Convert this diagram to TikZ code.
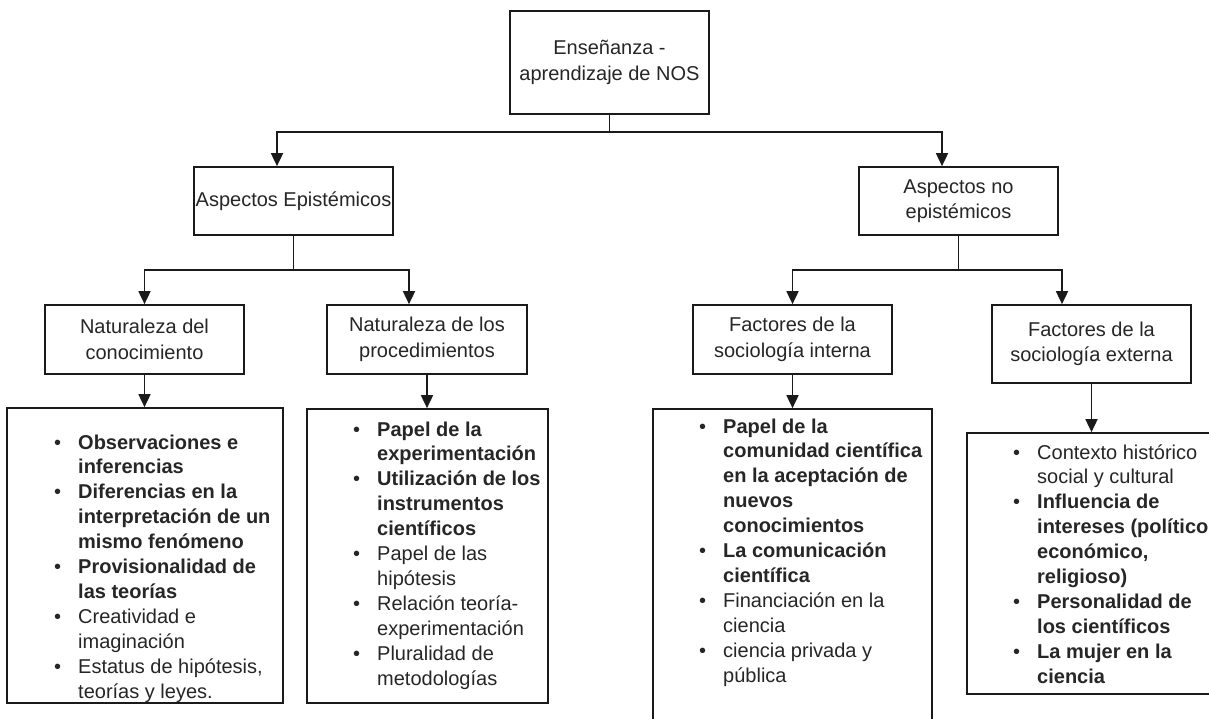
\documentclass[tikz,border=0pt]{standalone}
\usepackage{fontspec}
\setmainfont{Liberation Sans}
\usetikzlibrary{arrows.meta}
\definecolor{txt}{HTML}{262626}
\definecolor{lncol}{HTML}{1A1A1A}
\newcommand{\bul}{\makebox[24pt][l]{\textbullet}}
\begin{document}
\begin{tikzpicture}[x=1pt,y=-1pt,
  box/.style={draw=lncol, line width=1.7pt, rectangle, inner sep=0pt, align=center, text=txt, font=\fontsize{20}{25.5}\selectfont},
  arr/.style={draw=lncol, line width=1.7pt, -{Triangle[length=13pt,width=12pt]}},
  conn/.style={draw=lncol, line width=1.7pt},
  listtext/.style={anchor=base west, inner sep=0pt, text=txt, font=\fontsize{20}{24.9}\selectfont}]
\clip (0,0) rectangle (1209,719);
\fill[white] (0,0) rectangle (1209,719);

% boxes
\node[box, minimum width=199pt, minimum height=103pt] (top) at (609.5,62.5) {Enseñanza -\\aprendizaje de NOS};
\node[box, minimum width=199pt, minimum height=68pt] (ae) at (293.5,201) {Aspectos Epistémicos};
\node[box, minimum width=199pt, minimum height=68pt] (ane) at (958.5,201) {Aspectos no\\epistémicos};
\node[box, minimum width=199pt, minimum height=69pt] (nc) at (144.5,339.5) {Naturaleza del\\conocimiento};
\node[box, minimum width=200pt, minimum height=69pt] (np) at (427,339.5) {Naturaleza de los\\procedimientos};
\node[box, minimum width=199pt, minimum height=69pt] (fi) at (792.5,339.5) {Factores de la\\sociología interna};
\node[box, minimum width=199pt, minimum height=78pt] (fe) at (1091.5,344) {Factores de la\\sociología externa};

% list boxes
\node[box, minimum width=276pt, minimum height=295pt] (l1) at (145,555.5) {};
\node[box, minimum width=241pt, minimum height=294pt] (l2) at (427.5,556) {};
\node[box, minimum width=279pt, minimum height=330pt] (l3) at (792.5,574) {};
\node[box, minimum width=250pt, minimum height=261pt] (l4) at (1092,563.5) {};

% connectors
\coordinate (j0) at (609.5,132);
\draw[conn] (top.south) -- (j0);
\draw[arr] (j0) -| ([xshift=-16.5pt]ae.north);
\draw[arr] (j0) -| ([xshift=-16.5pt]ane.north);

\coordinate (j1) at (293.5,270);
\draw[conn] (ae.south) -- (j1);
\draw[arr] (j1) -| (nc.north);
\draw[arr] (j1) -| ([xshift=-18pt]np.north);

\coordinate (j2) at (958.5,270);
\draw[conn] (ane.south) -- (j2);
\draw[arr] (j2) -| (fi.north);
\draw[arr] (j2) -| ([xshift=-29.5pt]fe.north);

\draw[arr] (nc.south) -- (nc.south |- l1.north);
\draw[arr] (np.south) -- (np.south |- l2.north);
\draw[arr] (fi.south) -- (fi.south |- l3.north);
\draw[arr] (fe.south) -- (fe.south |- l4.north);

% list texts
\node[listtext] (t1) at (54,449) {\begin{tabular}[t]{@{}l@{}l@{}}
\bul & \textbf{Observaciones e}\\
 & \textbf{inferencias}\\
\bul & \textbf{Diferencias en la}\\
 & \textbf{interpretación de un}\\
 & \textbf{mismo fenómeno}\\
\bul & \textbf{Provisionalidad de}\\
 & \textbf{las teorías}\\
\bul & Creatividad e\\
 & imaginación\\
\bul & Estatus de hipótesis,\\
 & teorías y leyes.
\end{tabular}};

\node[listtext] (t2) at (353,436) {\begin{tabular}[t]{@{}l@{}l@{}}
\bul & \textbf{Papel de la}\\
 & \textbf{experimentación}\\
\bul & \textbf{Utilización de los}\\
 & \textbf{instrumentos}\\
 & \textbf{científicos}\\
\bul & Papel de las\\
 & hipótesis\\
\bul & Relación teoría-\\
 & experimentación\\
\bul & Pluralidad de\\
 & metodologías
\end{tabular}};

\node[listtext] (t3) at (699,433) {\begin{tabular}[t]{@{}l@{}l@{}}
\bul & \textbf{Papel de la}\\
 & \textbf{comunidad científica}\\
 & \textbf{en la aceptación de}\\
 & \textbf{nuevos}\\
 & \textbf{conocimientos}\\
\bul & \textbf{La comunicación}\\
 & \textbf{científica}\\
\bul & Financiación en la\\
 & ciencia\\
\bul & ciencia privada y\\
 & pública
\end{tabular}};

\node[listtext] (t4) at (1013,459) {\begin{tabular}[t]{@{}l@{}l@{}}
\bul & Contexto histórico\\
 & social y cultural\\
\bul & \textbf{Influencia de}\\
 & \textbf{intereses (político,}\\
 & \textbf{económico,}\\
 & \textbf{religioso)}\\
\bul & \textbf{Personalidad de}\\
 & \textbf{los científicos}\\
\bul & \textbf{La mujer en la}\\
 & \textbf{ciencia}
\end{tabular}};
\end{tikzpicture}
\end{document}
